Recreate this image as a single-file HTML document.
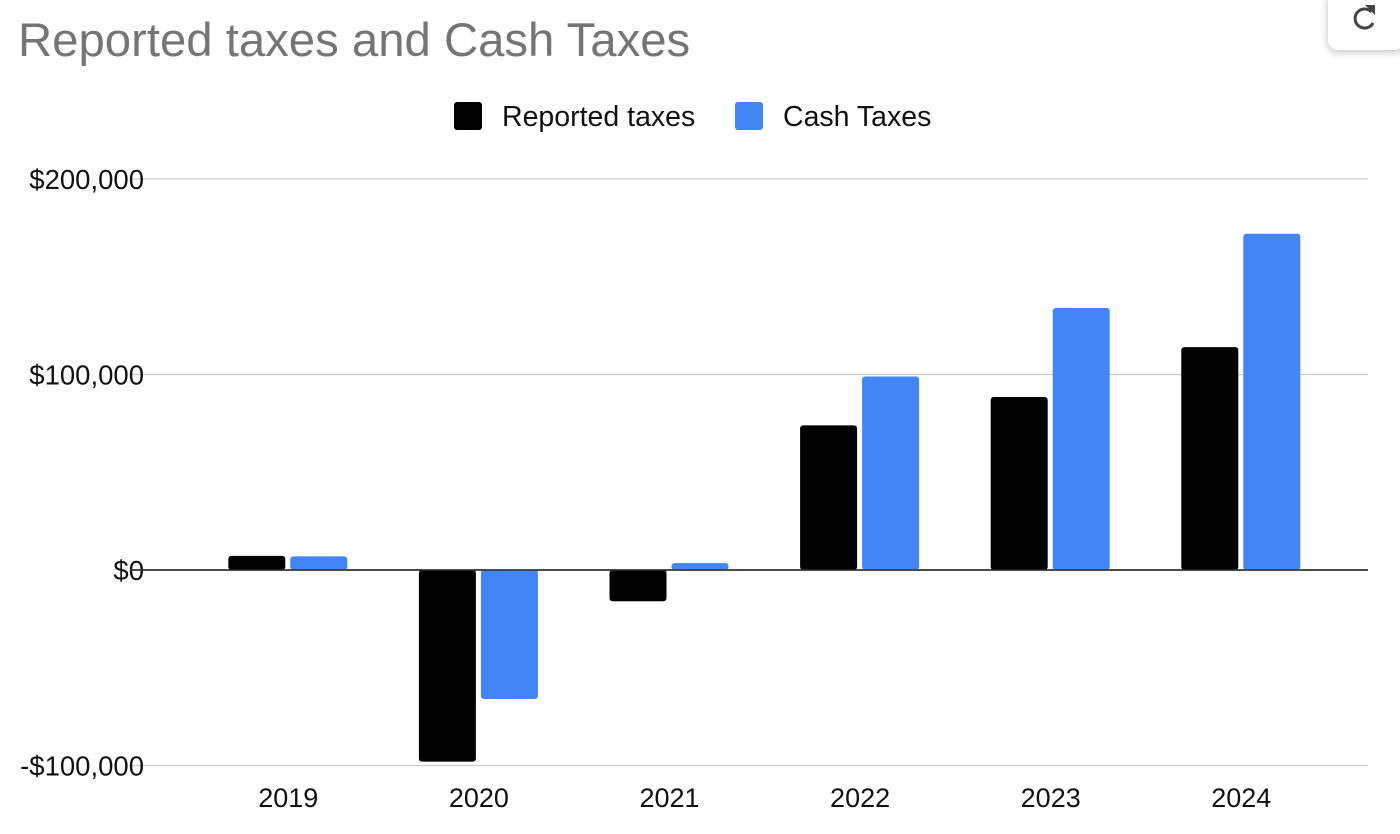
<!DOCTYPE html>
<html><head><meta charset="utf-8"><style>
body{margin:0;width:1400px;height:834px;background:#fff;overflow:hidden;font-family:"Liberation Sans",Arial,sans-serif;position:relative}
#title{position:absolute;left:18px;top:13px;font-size:47.3px;color:#757575}
#refresh{position:absolute;left:1328px;top:-10px;width:76px;height:60px;background:#fff;border-radius:10px;box-shadow:0 2px 8px rgba(0,0,0,0.25)}
</style></head><body>
<div id="title">Reported taxes and Cash Taxes</div>
<div id="refresh">
<svg width="76" height="60" style="position:absolute;left:0;top:0"><path d="M43.5 22 A9.5 9.5 0 1 0 45 33" fill="none" stroke="#444" stroke-width="3"/><path d="M37 15 L47 15 L47 25 Z" fill="#444"/></svg>
</div>
<svg id="chart" width="1400" height="834" style="position:absolute;left:0;top:0"></svg>
<script>
const categories=["2019","2020","2021","2022","2023","2024"];
const reported=[7200,-98000,-16000,74000,88500,114000];
const cash=[7000,-66000,3500,99000,134000,172000];
const ticks=[200000,100000,0,-100000];
const tickLabels=["$200,000","$100,000","$0","-$100,000"];
const NS="http://www.w3.org/2000/svg";
const svg=document.getElementById('chart');
const y=v=>570-v*0.001955;
const x0=193,step=190.6;
const cx=i=>x0+step*(i+0.5);
function mk(t,a){const e=document.createElementNS(NS,t);for(const k in a)e.setAttribute(k,a[k]);svg.appendChild(e);return e;}
ticks.forEach((t,i)=>{
 const l=mk('line',{x1:130,x2:1368,y1:y(t),y2:y(t),stroke:t===0?'#333':'#ccc','stroke-width':t===0?1.5:1.2});
 
 
 const tx=mk('text',{x:144,y:y(t)+10,'text-anchor':'end','font-size':27.5,fill:'#111'});
 tx.textContent=tickLabels[i];
 
 
});
function bar(v,xl,color,name){
 const w=57,r=3,top=Math.min(y(v),y(0)),h=Math.abs(y(v)-y(0));
 const e=mk('rect',{x:xl,y:top,width:w,height:h,rx:r,fill:color});
 
 
}
categories.forEach((c,i)=>{
 bar(reported[i],cx(i)-60,'#000','bar-reported-'+c);
 bar(cash[i],cx(i)+2,'#4285f4','bar-cash-'+c);
 const t=mk('text',{x:cx(i),y:807,'text-anchor':'middle','font-size':27,fill:'#111'});
 t.textContent=c;
 
 
});
mk('line',{x1:130,x2:1368,y1:y(0),y2:y(0),stroke:'#333','stroke-width':1.5});
const leg=[["Reported taxes","#000",454],["Cash Taxes","#4285f4",735]];
leg.forEach(l=>{
 const r=mk('rect',{x:l[2],y:102,width:28,height:28,rx:3,fill:l[1]});
 
 
 const t=mk('text',{x:l[2]+48,y:126,'font-size':28.5,fill:'#111'});
 t.textContent=l[0];
 
 
});
</script>
</body></html>
